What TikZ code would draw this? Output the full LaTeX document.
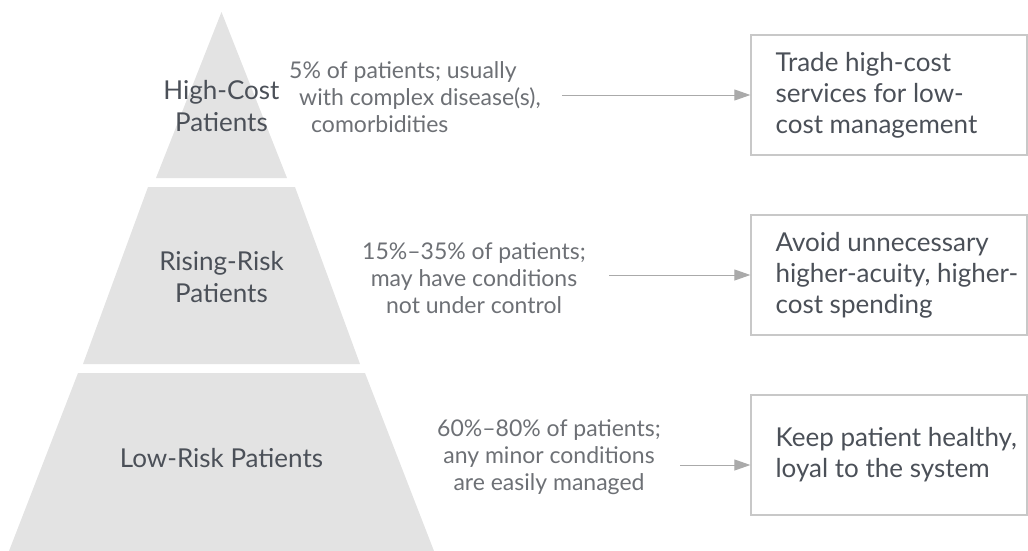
\documentclass[tikz,border=0pt]{standalone}
\usepackage{fontspec}
\setmainfont{Lato}
\usetikzlibrary{arrows.meta}
\definecolor{tierfill}{HTML}{E3E3E3}
\definecolor{darktext}{HTML}{4B5058}
\definecolor{midtext}{HTML}{6D7075}
\definecolor{boxline}{HTML}{C8C8C8}
\definecolor{arrowgray}{HTML}{AAAAAA}
\tikzset{
  tier/.style={fill=tierfill, draw=none},
  tierlabel/.style={text=darktext, align=center, inner sep=0pt, font=\fontsize{26}{32}\selectfont},
  midlabel/.style={text=midtext, align=center, inner sep=0pt, font=\fontsize{23}{27}\selectfont},
  actionbox/.style={draw=boxline, line width=1.3pt, minimum width=276pt, minimum height=120pt, inner sep=0pt},
  actiontext/.style={text=darktext, align=left, anchor=west, inner sep=0pt, font=\fontsize{26}{31}\selectfont},
  flow/.style={draw=arrowgray, line width=1pt, -{Triangle[length=16pt,width=11pt]}, shorten >=0pt}
}
\begin{document}
\begin{tikzpicture}[x=1pt,y=-1pt]
\useasboundingbox (0,0) rectangle (1028,551);
% pyramid tiers
\fill[tier] (221.5,12) -- (287,178) -- (156,178) -- cycle;
\fill[tier] (148,187) -- (295,187) -- (360,364) -- (83,364) -- cycle;
\fill[tier] (78,373) -- (365,373) -- (434,551) -- (9,551) -- cycle;
% tier labels
\node[tierlabel] (t1) at (221.5,106) {High-Cost\\Patients};
\node[tierlabel] (t2) at (221.5,277) {Rising-Risk\\Patients};
\node[tierlabel] (t3) at (221.5,458) {Low-Risk Patients};
% middle descriptions
\node[midlabel, align=left, anchor=west] (m1) at (289,97) {5\% of patients; usually\\\hspace*{10pt}with complex disease(s),\\\hspace*{22pt}comorbidities};
\node[midlabel] (m2) at (474,278) {15\%–35\% of patients;\\may have conditions\\not under control};
\node[midlabel] (m3) at (549,457) {60\%–80\% of patients;\\any minor conditions\\are easily managed};
% action boxes
\node[actionbox] (b1) at (889,95) {};
\node[actionbox] (b2) at (889,275) {};
\node[actionbox] (b3) at (889,455) {};
\node[actiontext] (a1) at ([xshift=25pt]b1.west) {Trade high-cost\\services for low-\\cost management};
\node[actiontext] (a2) at ([xshift=25pt]b2.west) {Avoid unnecessary\\higher-acuity, higher-\\cost spending};
\node[actiontext] (a3) at ([xshift=25pt]b3.west) {Keep patient healthy,\\loyal to the system};
% arrows
\coordinate (s1) at (562,95);
\coordinate (s2) at (609,275);
\coordinate (s3) at (680,465);
\draw[flow] (s1) -- (s1 -| b1.west);
\draw[flow] (s2) -- (s2 -| b2.west);
\draw[flow] (s3) -- (s3 -| b3.west);
\end{tikzpicture}
\end{document}
